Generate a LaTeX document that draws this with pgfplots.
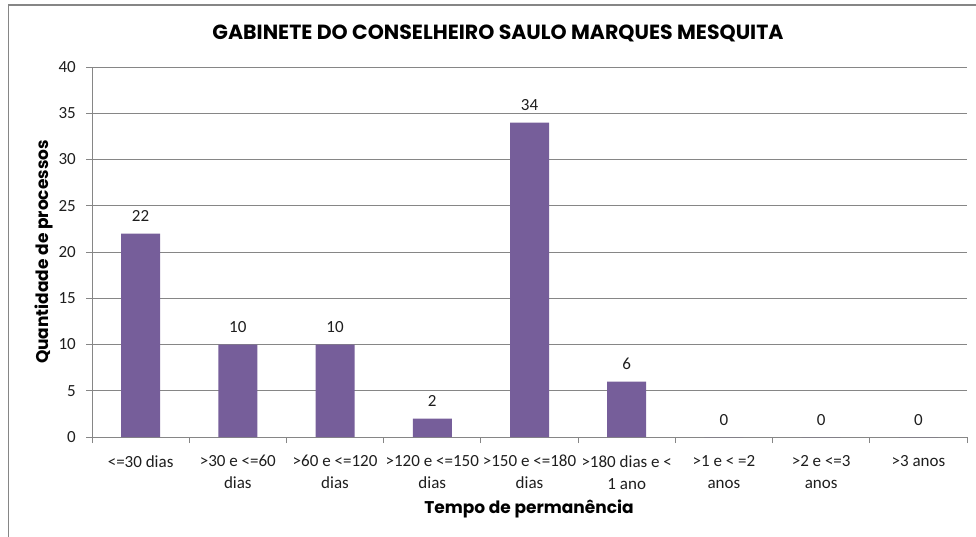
\documentclass[border=0pt]{standalone}
\usepackage{fontspec}
\setmainfont{Carlito}
\newfontfamily\gothic{Poppins}
\usepackage{pgfplots}
\pgfplotsset{compat=1.18}
\definecolor{barpurple}{RGB}{118,94,154}
\definecolor{axgray}{RGB}{134,134,134}
\definecolor{txt}{RGB}{30,30,30}

\begin{document}
\begin{tikzpicture}
\useasboundingbox (0,0) rectangle (976pt,-537pt);
\draw[axgray, line width=1.5pt] (8.5pt,-537pt) -- (8.5pt,-5pt) -- (976pt,-5pt);
\begin{axis}[
  at={(92pt,-437pt)}, anchor=south west,
  scale only axis, width=875pt, height=370pt,
  ybar, bar width=39pt,
  xmin=-0.5, xmax=8.5, ymin=0, ymax=40,
  ytick={0,5,...,40},
  xtick={0,...,8},
  xticklabels={{<=30 dias},{>30 e <=60\\dias},{>60 e <=120\\dias},{>120 e <=150\\dias},{>150 e <=180\\dias},{>180 dias e <\\1 ano},{>1 e < =2\\anos},{>2 e <=3\\anos},{>3 anos}},
  minor xtick={-0.5,0.5,...,8.5},
  axis x line*=bottom, axis y line*=left,
  axis line style={-, draw=axgray, line width=1pt},
  ymajorgrids, grid style={axgray, line width=1pt},
  tick align=outside, major tick length=6pt, minor tick length=6pt,
  major x tick style={draw=none},
  minor x tick style={draw=axgray, line width=1pt},
  ytick style={draw=axgray, line width=1pt},
  /pgf/number format/assume math mode=true,
  tick label style={font=\fontsize{17}{21}\selectfont, color=txt},
  xticklabel style={font=\fontsize{17}{22}\selectfont, align=center, anchor=north, inner sep=0pt, yshift=-12pt},
  yticklabel style={anchor=east, inner sep=0pt, xshift=-10pt},
  nodes near coords,
  nodes near coords style={font=\fontsize{17}{21}\selectfont, color=txt, anchor=base, inner sep=0pt, yshift=12pt},
  clip=false,
]
\addplot[fill=barpurple, draw=none] coordinates {(0,22) (1,10) (2,10) (3,2) (4,34) (5,6) (6,0) (7,0) (8,0)};
\end{axis}
\node[font=\gothic\bfseries\fontsize{20.5}{24}\selectfont] at (498pt,-33pt) {GABINETE DO CONSELHEIRO SAULO MARQUES MESQUITA};
\node[rotate=90, font=\gothic\bfseries\fontsize{17}{20}\selectfont] at (44pt,-252pt) {Quantidade de processos};
\node[font=\gothic\bfseries\fontsize{17}{20}\selectfont] at (529pt,-509pt) {Tempo de permanência};
\end{tikzpicture}
\end{document}
